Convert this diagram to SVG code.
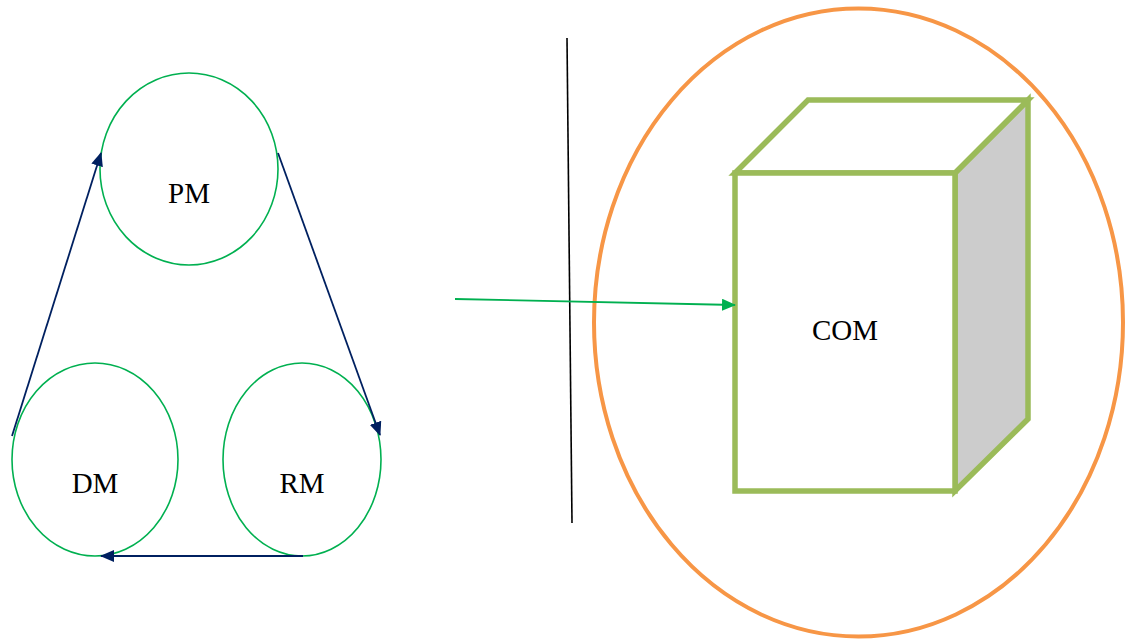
<svg xmlns="http://www.w3.org/2000/svg" width="1125" height="639" viewBox="0 0 1125 639">
  <defs>
    <style>
      .mode { fill: #FFFFFF; stroke: #00B050; stroke-width: 1.6; }
      .label { font-family: "Liberation Serif", "Times New Roman", serif; font-size: 29px; fill: #000000; text-anchor: middle; }
      .flow { stroke: #002060; stroke-width: 1.8; fill: none; marker-end: url(#navyHead); }
      .cube { stroke: #9BBB59; stroke-width: 5.5; stroke-linejoin: miter; }
    </style>
    <marker id="navyHead" viewBox="0 0 14 12" refX="13" refY="6" markerWidth="14" markerHeight="12" markerUnits="userSpaceOnUse" orient="auto">
      <path d="M0,0 L14,6 L0,12 Z" fill="#002060"/>
    </marker>
    <marker id="greenHead" viewBox="0 0 14 12" refX="13" refY="6" markerWidth="14" markerHeight="12" markerUnits="userSpaceOnUse" orient="auto">
      <path d="M0,0 L14,6 L0,12 Z" fill="#00B050"/>
    </marker>
  </defs>

  <rect width="1125" height="639" fill="#FFFFFF"/>

  <!-- management cycle -->
  <g id="pm">
    <ellipse class="mode" cx="189" cy="169" rx="89" ry="96"/>
    <text class="label" x="189" y="203">PM</text>
  </g>
  <g id="dm">
    <ellipse class="mode" cx="95" cy="459.5" rx="83" ry="96.5"/>
    <text class="label" x="95" y="493">DM</text>
  </g>
  <g id="rm">
    <ellipse class="mode" cx="302" cy="459.5" rx="79" ry="96.5"/>
    <text class="label" x="302" y="493">RM</text>
  </g>

  <!-- boundary line -->
  <g id="divider">
    <line x1="567" y1="38" x2="572" y2="523" stroke="#000000" stroke-width="1.6"/>
  </g>

  <!-- COM cube inside its enclosure -->
  <g id="com">
    <ellipse cx="858.5" cy="322.5" rx="264.5" ry="314" fill="none" stroke="#F79646" stroke-width="4"/>
    <polygon class="cube" points="955,173 1028,100 1028,419 955,491" fill="#CCCCCC"/>
    <polygon class="cube" points="735,173 808,100 1028,100 955,173" fill="#FFFFFF"/>
    <rect class="cube" x="735" y="173" width="220" height="318" fill="#FFFFFF"/>
    <text class="label" x="845" y="340">COM</text>
  </g>

  <!-- connectors -->
  <g id="connectors">
    <line class="flow" x1="12" y1="436" x2="101" y2="153"/>
    <line class="flow" x1="278" y1="153" x2="380" y2="435"/>
    <line class="flow" x1="303" y1="556" x2="101" y2="556"/>
    <line x1="455" y1="299" x2="735" y2="305" stroke="#00B050" stroke-width="1.8" marker-end="url(#greenHead)"/>
  </g>
</svg>
